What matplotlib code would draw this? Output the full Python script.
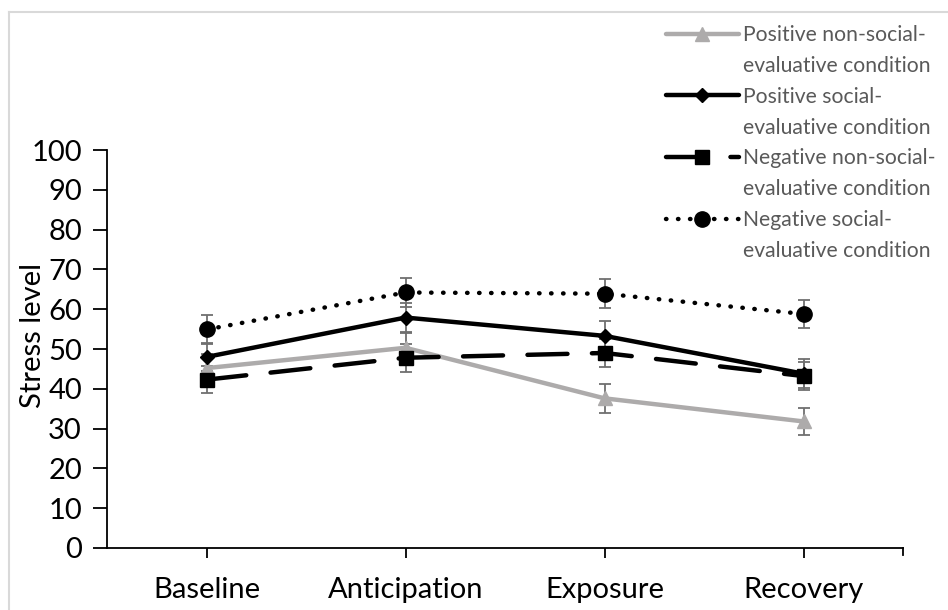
import matplotlib
matplotlib.use("Agg")
import matplotlib.pyplot as plt
from matplotlib.lines import Line2D

plt.rcParams['font.family'] = ['Lato', 'DejaVu Sans']

phases = ["Baseline", "Anticipation", "Exposure", "Recovery"]

pos_nonsocial = [45.2, 50.3, 37.6, 31.8]
pos_nonsocial_err = [3.5, 3.6, 3.6, 3.5]
pos_social = [48.0, 57.9, 53.3, 43.8]
pos_social_err = [3.6, 3.7, 3.7, 3.6]
neg_nonsocial = [42.3, 47.8, 49.0, 43.2]
neg_nonsocial_err = [3.4, 3.5, 3.6, 3.6]
neg_social = [54.9, 64.2, 63.9, 58.8]
neg_social_err = [3.6, 3.6, 3.7, 3.6]

labels = ["Positive non-social-\nevaluative condition",
          "Positive social-\nevaluative condition",
          "Negative non-social-\nevaluative condition",
          "Negative social-\nevaluative condition"]

W, H = 948, 610
fig = plt.figure(figsize=(W / 100, H / 100), dpi=100)
ax = fig.add_axes([107 / W, (H - 548) / H, (903 - 107) / W, (548 - 150) / H])

x = list(range(len(phases)))
err_kw = dict(ecolor="#6f6f6f", elinewidth=1.3, capsize=4, capthick=1.3)

series = [
    (pos_nonsocial, pos_nonsocial_err, dict(color="#adabab", marker="^", ms=10, ls="-")),
    (pos_social, pos_social_err, dict(color="black", marker="D", ms=7, ls="-")),
    (neg_nonsocial, neg_nonsocial_err, dict(color="black", marker="s", ms=10, ls=(0, (9, 5.5)))),
    (neg_social, neg_social_err, dict(color="black", marker="o", ms=11, ls=(0, (0.1, 2.6)))),
]

handles = []
for vals, errs, st in series:
    ax.errorbar(x, vals, yerr=errs, fmt="none", zorder=2, **err_kw)
    ln, = ax.plot(x, vals, color=st["color"], marker=st["marker"], markersize=st["ms"],
                  linestyle=st["ls"], linewidth=3.2, dash_capstyle="round",
                  solid_capstyle="round", zorder=3)
    handles.append(ln)

ax.set_xlim(-0.5, 3.5)
ax.set_ylim(0, 100)
ax.set_yticks(range(0, 101, 10))
ax.set_xticks(x)
ax.set_xticklabels(phases)
ax.spines["top"].set_visible(False)
ax.spines["right"].set_visible(False)
for s in ("left", "bottom"):
    ax.spines[s].set_linewidth(1.3)
ax.tick_params(axis="y", length=10, width=1.3, labelsize=21, pad=8)
ax.tick_params(axis="x", length=7, width=1.3, labelsize=21, pad=14)
# closing tick at the right end of the category axis
ax.plot([1, 1], [0, -0.0176], transform=ax.transAxes, color="black", lw=1.3, clip_on=False)

ax.set_ylabel("Stress level", fontsize=21, va="center")
ax.yaxis.set_label_coords((33 - 107) / (903 - 107), (548 - 336) / (548 - 150))

# legend: marker line beside the first line of each label
leg_handles, leg_labels = [], []
empty = Line2D([], [], linestyle="none")
for h, lab in zip(handles, labels):
    first, second = lab.split("\n")
    leg_handles += [h, empty]
    leg_labels += [first, second]
leg = fig.legend(leg_handles, leg_labels, loc="upper left",
                 bbox_to_anchor=(666 / W, 1 - 25 / H), frameon=False,
                 fontsize=15.2, handlelength=3.45, handletextpad=0.2,
                 labelspacing=0.515, borderaxespad=0, borderpad=0)
for t in leg.get_texts():
    t.set_color("#595959")

# light chart-area border
fig.add_artist(Line2D([8.5 / W, 8.5 / W], [0, 1 - 12 / H], color="#d9d9d9", lw=1.5))
fig.add_artist(Line2D([8.5 / W, 1], [1 - 12 / H, 1 - 12 / H], color="#d9d9d9", lw=1.5))

fig.savefig("out.png", dpi=100)
